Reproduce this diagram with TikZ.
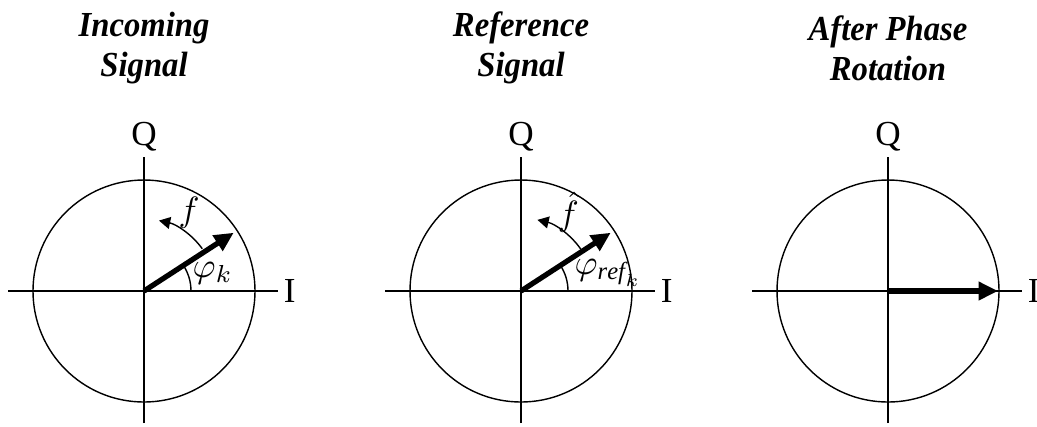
\documentclass[tikz,border=0pt]{standalone}
\usepackage{fontspec}
\setmainfont{Liberation Serif}
\newfontfamily\titlefont[FakeStretch=0.93]{Liberation Serif}
\usetikzlibrary{arrows.meta}
\tikzset{
    phasor/.style={line width=1.5pt, -{Triangle[length=5.5pt,width=5pt]}},
    turn/.style={-{Triangle[length=3.2pt,width=3.4pt]}},
    axislabel/.style={font=\fontsize{10}{12}\selectfont, inner sep=1.5pt},
    anglelabel/.style={font=\fontsize{10}{12}\selectfont, inner sep=0pt},
    paneltitle/.style={font=\titlefont\fontsize{10}{11.4}\selectfont\bfseries\itshape, align=center}
}

\begin{document}
\begin{tikzpicture}[>=stealth, line width=0.4pt]
    \useasboundingbox (0,0) rectangle (10.37,4.26);

    \foreach \n/\cx/\ta/\tb in {
        in/1.44/Incoming/Signal,
        ref/5.21/Reference/Signal,
        rot/8.88/After Phase/Rotation
    } {
        \coordinate (\n) at (\cx,1.35);
        \draw (\n) circle (1.11);
        \draw ([xshift=-13.6mm]\n) -- ([xshift=13.4mm]\n) node[right, axislabel] (\n-i) {I};
        \draw ([yshift=-13.2mm]\n) -- ([yshift=13.4mm]\n) node[above, axislabel] (\n-q) {Q};
        \node[paneltitle] (\n-title) at ([yshift=24.3mm]\n) {\ta\\\tb};
    }

    \draw[phasor] (in) -- ++(33:1.07) coordinate (in-tip);
    \draw[turn] ([shift={(36:0.72)}]in) arc[start angle=36, end angle=78, radius=0.72];
    \node[anglelabel] (in-f) at ([shift={(60:0.9)}]in) {\(f\)};
    \draw ([xshift=4.7mm]in) arc[start angle=0, end angle=33, radius=0.47];
    \node[anglelabel, anchor=west] (in-phi) at ([shift={(0.48,0.18)}]in) {\(\varphi_k\)};

    \draw[phasor] (ref) -- ++(33:1.07) coordinate (ref-tip);
    \draw[turn] ([shift={(35:0.73)}]ref) arc[start angle=35, end angle=77, radius=0.73];
    \node[anglelabel] (ref-f) at ([shift={(59:0.92)}]ref) {\(\hat{f}\)};
    \draw ([xshift=4.7mm]ref) arc[start angle=0, end angle=33, radius=0.47];
    \node[anglelabel, anchor=west] (ref-phi) at ([shift={(0.53,0.18)}]ref) {\(\varphi_{\mathit{ref}_k}\)};

    \draw[phasor] (rot) -- ++(1.10,0) coordinate (rot-tip);
\end{tikzpicture}
\end{document}
